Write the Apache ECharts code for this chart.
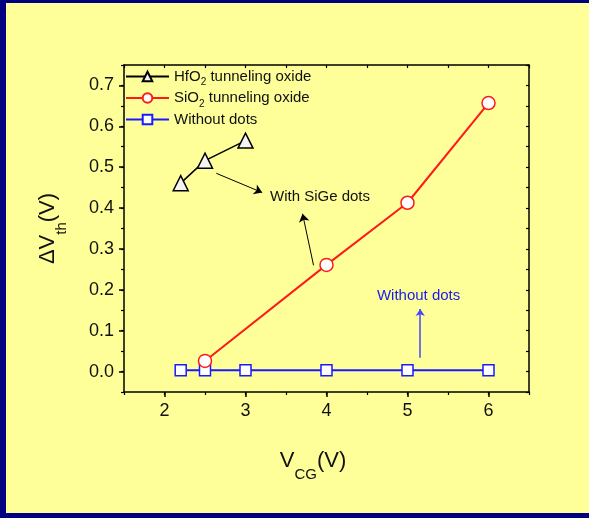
<!DOCTYPE html>
<html><head><meta charset="utf-8">
<script src="https://cdn.jsdelivr.net/npm/echarts@6/dist/echarts.min.js"></script>
<style>
html,body{margin:0;padding:0;width:589px;height:518px;overflow:hidden;background:#000080;}
#bg{position:absolute;left:6px;top:3px;width:583px;height:510px;background:#FFFF99;}
#chart{position:absolute;left:0;top:0;width:589px;height:518px;}
</style></head><body>
<div id="bg"></div><div id="chart"></div>
<script>
// ---- data ----
const hfX = [2.2, 2.5, 3.0];
const hfY = [0.461, 0.516, 0.565];
const sioX = [2.5, 4, 5, 6];
const sioY = [0.026, 0.261, 0.413, 0.657];
const noDotX = [2.2, 2.5, 3, 4, 5, 6];
const noDotY = [0.003, 0.003, 0.003, 0.003, 0.003, 0.003];
const xTicks = [2, 3, 4, 5, 6];
const yTicks = [0, 0.1, 0.2, 0.3, 0.4, 0.5, 0.6, 0.7];
const seriesNames = ['HfO2 tunneling oxide', 'SiO2 tunneling oxide', 'Without dots'];
const blackArrows = [[2.64, 0.485, 3.206, 0.438], [3.84, 0.26, 3.704, 0.386]];
const blueArrows = [[5.157, 0.034, 5.157, 0.153]];
const notes = [
  {text: 'With SiGe dots', x: 3.92, y: 0.427, color: '#111111'},
  {text: 'Without dots', x: 5.137, y: 0.186, color: '#1a1aee'}
];
// ---- chart ----
const FF = '"Liberation Sans", Arial, sans-serif';
const zip = (xs, ys) => xs.map((x, i) => [x, ys[i]]);
const chart = echarts.init(document.getElementById('chart'));
const legendFmt = n => '{a|' + n.replace('O2', 'O}{s|2}{a|') + '}';
const arrowData = arr => arr.map(a => [{coord: [a[0], a[1]]}, {coord: [a[2], a[3]]}]);
const noteMP = n => ({
  silent: true, symbol: 'rect', symbolSize: 1, itemStyle: {color: 'rgba(0,0,0,0)'},
  label: {show: true, position: 'inside', formatter: n.text, color: n.color, fontSize: 15, fontFamily: FF},
  data: [{coord: [n.x, n.y]}]
});
const black = '#000';
const grid = {left: 124, top: 65, right: 60, bottom: 126};
const minorX = (pos, inside, len) => ({
  type: 'value', position: pos, min: 1.5, max: 6.5, interval: 0.5,
  axisLine: {show: pos === 'top', onZero: false, lineStyle: {color: black, width: 1.5}},
  axisTick: {show: true, inside: inside, length: len, lineStyle: {color: black, width: 1.2}},
  axisLabel: {show: false}, splitLine: {show: false}
});
const minorY = (pos, inside, len) => ({
  type: 'value', position: pos, min: -0.05, max: 0.75, interval: 0.05,
  axisLine: {show: pos === 'right', onZero: false, lineStyle: {color: black, width: 1.5}},
  axisTick: {show: true, inside: inside, length: len, lineStyle: {color: black, width: 1.2}},
  axisLabel: {show: false}, splitLine: {show: false}
});
chart.setOption({
  animation: false,
  backgroundColor: 'transparent',
  grid: grid,
  legend: {
    orient: 'vertical', left: 125, top: 69, padding: 0, itemWidth: 43, itemHeight: 12, itemGap: 3,
    data: seriesNames, formatter: legendFmt, selectedMode: false,
    textStyle: {fontFamily: FF, fontSize: 15, color: '#111',
      rich: {a: {fontFamily: FF, fontSize: 15, lineHeight: 22, color: '#111'},
             s: {fontFamily: FF, fontSize: 10, lineHeight: 10, verticalAlign: 'bottom', color: '#111'}}}
  },
  xAxis: [
    {type: 'value', position: 'bottom', min: 1.5, max: 6.5,
     axisLine: {show: true, onZero: false, lineStyle: {color: black, width: 1.5}},
     axisTick: {show: true, customValues: xTicks, length: 5, lineStyle: {color: black, width: 1.5}},
     axisLabel: {customValues: xTicks, color: '#111', fontSize: 18, fontFamily: FF, margin: 10},
     splitLine: {show: false},
     name: '{v|V}{s|CG}{v|(V)}', nameLocation: 'middle', nameGap: 48,
     nameTextStyle: {fontFamily: FF, fontSize: 22, color: '#111', padding: [0, 27, 0, 0],
       rich: {v: {fontFamily: FF, fontSize: 22, lineHeight: 42, color: '#111'},
              s: {fontFamily: FF, fontSize: 15, lineHeight: 15, verticalAlign: 'bottom', color: '#111'}}}
    },
    minorX('bottom', false, 3),
    minorX('top', true, 3)
  ],
  yAxis: [
    {type: 'value', position: 'left', min: -0.05, max: 0.75,
     axisLine: {show: true, onZero: false, lineStyle: {color: black, width: 1.5}},
     axisTick: {show: true, customValues: yTicks, length: 5, lineStyle: {color: black, width: 1.5}},
     axisLabel: {customValues: yTicks, color: '#111', fontSize: 18, fontFamily: FF, margin: 10,
       formatter: v => v.toFixed(1)},
     splitLine: {show: false},
     name: '{v|\u0394V}{s|th}{v|(V)}', nameLocation: 'middle', nameGap: 55, nameRotate: 90,
     nameTextStyle: {fontFamily: FF, fontSize: 22, color: '#111',
       rich: {v: {fontFamily: FF, fontSize: 22, lineHeight: 42, color: '#111'},
              s: {fontFamily: FF, fontSize: 15, lineHeight: 15, verticalAlign: 'bottom', color: '#111'}}}
    },
    minorY('left', false, 3),
    minorY('right', true, 3)
  ],
  series: [
    {name: seriesNames[0], type: 'line', data: zip(hfX, hfY), symbol: 'triangle', symbolSize: 15,
     itemStyle: {color: '#f4f4f4', borderColor: '#000', borderWidth: 1.5},
     lineStyle: {color: '#000', width: 1.5}, z: 3,
     markLine: {silent: true, symbol: ['none', 'arrow'], symbolSize: 8, label: {show: false},
       lineStyle: {color: '#000', width: 1, type: 'solid'}, data: arrowData(blackArrows)},
     markPoint: noteMP(notes[0])},
    {name: seriesNames[1], type: 'line', data: zip(sioX, sioY), symbol: 'circle', symbolSize: 13,
     itemStyle: {color: '#ffffff', borderColor: '#ff1a1a', borderWidth: 1.5},
     lineStyle: {color: '#ff1a1a', width: 2}, z: 4},
    {name: seriesNames[2], type: 'line', data: zip(noDotX, noDotY), symbol: 'rect', symbolSize: 11,
     itemStyle: {color: '#ffffff', borderColor: '#1a1aff', borderWidth: 1.5},
     lineStyle: {color: '#1a1aff', width: 2}, z: 2,
     markLine: {silent: true, symbol: ['none', 'arrow'], symbolSize: 7, label: {show: false},
       lineStyle: {color: '#4646ff', width: 1.5, type: 'solid'}, data: arrowData(blueArrows)},
     markPoint: noteMP(notes[1])}
  ]
});
</script></body></html>
